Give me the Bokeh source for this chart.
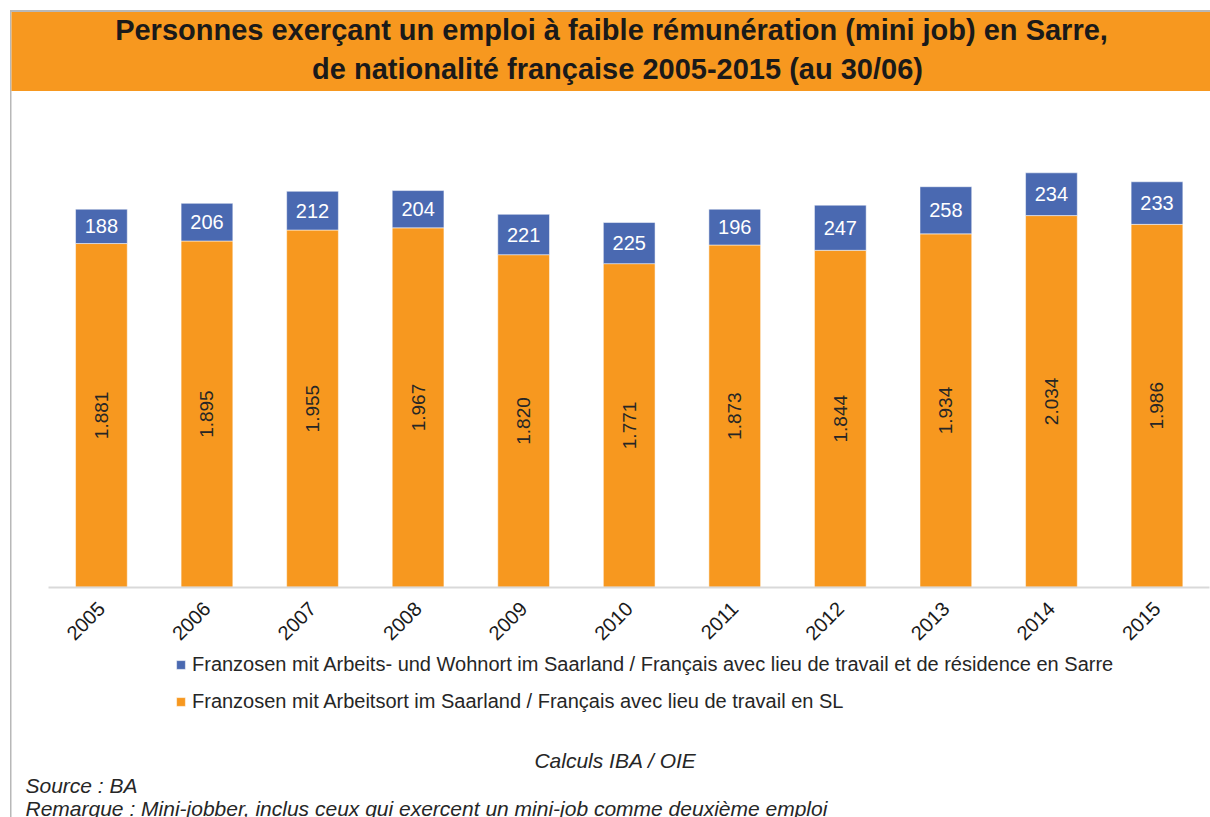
import math
from bokeh.plotting import figure
from bokeh.models import (ColumnDataSource, Range1d, Legend, LegendItem, Label,
                          LinearAxis, FixedTicker, BoxAnnotation)
from bokeh.core.properties import value
from bokeh.embed import file_html
from bokeh.resources import INLINE

# ---------------- data ----------------
title_lines = [
    "Personnes exerçant un emploi à faible rémunération (mini job) en Sarre,",
    "de nationalité française 2005-2015 (au 30/06)",
]
years = ["2005", "2006", "2007", "2008", "2009", "2010", "2011", "2012", "2013", "2014", "2015"]
arbeitsort = [1881, 1895, 1955, 1967, 1820, 1771, 1873, 1844, 1934, 2034, 1986]
wohnort = [188, 206, 212, 204, 221, 225, 196, 247, 258, 234, 233]
series_names = [
    "Franzosen mit Arbeitsort im Saarland / Français avec lieu de travail en SL",
    "Franzosen mit Arbeits- und Wohnort im Saarland / Français avec lieu de travail et de résidence en Sarre",
]
footer_center = "Calculs IBA / OIE"
footer_lines = [
    "Source : BA",
    "Remarque : Mini-jobber, inclus ceux qui exercent un mini-job comme deuxième emploi",
]

ORANGE = "#F7981F"
BLUE = "#4A69B1"
GRAY = "#B8B8B8"
FONT = "Liberation Sans"
TXT = "#262626"

def fmt(v):
    return f"{v:,}".replace(",", ".")

W, H = 1210, 817
idx = list(range(len(years)))

src = ColumnDataSource(dict(
    x=idx,
    sl=arbeitsort,
    res=wohnort,
    sl_mid=[a / 2 for a in arbeitsort],
    res_mid=[a + b / 2 for a, b in zip(arbeitsort, wohnort)],
    sl_txt=[fmt(a) for a in arbeitsort],
    res_txt=[fmt(b) for b in wohnort],
))

p = figure(width=W, height=H, x_range=Range1d(-0.956, 10.507), y_range=Range1d(-1260.5, 3211.3),
           x_axis_type=None, y_axis_type=None, output_backend="svg", toolbar_location=None,
           min_border_left=0, min_border_right=0, min_border_top=0, min_border_bottom=0)
p.outline_line_color = None
p.grid.visible = False
p.background_fill_color = "white"
p.border_fill_color = "white"

# frame decoration: gray border lines and orange title band
p.add_layout(BoxAnnotation(left=9.5, right=11, bottom=0, top=807.5,
                           left_units="screen", right_units="screen",
                           bottom_units="screen", top_units="screen",
                           fill_color=GRAY, fill_alpha=1, line_color=None, level="underlay"))
p.add_layout(BoxAnnotation(left=9.5, right=W, bottom=805.5, top=807.5,
                           left_units="screen", right_units="screen",
                           bottom_units="screen", top_units="screen",
                           fill_color=GRAY, fill_alpha=1, line_color=None, level="underlay"))
p.add_layout(BoxAnnotation(left=11, right=W, bottom=726.5, top=805.5,
                           left_units="screen", right_units="screen",
                           bottom_units="screen", top_units="screen",
                           fill_color=ORANGE, fill_alpha=1, line_color=None, level="underlay"))

p.add_layout(Label(x=611, y=788, x_units="screen", y_units="screen", text=title_lines[0],
                   text_align="center", text_baseline="alphabetic", text_font=FONT,
                   text_font_style="bold", text_font_size="29px", text_color="#1A1A1A"))
p.add_layout(Label(x=617, y=749, x_units="screen", y_units="screen", text=title_lines[1],
                   text_align="center", text_baseline="alphabetic", text_font=FONT,
                   text_font_style="bold", text_font_size="29px", text_color="#1A1A1A"))

# bars
rs = p.vbar_stack(["sl", "res"], x="x", width=0.49, color=[ORANGE, BLUE],
                  line_color="white", line_alpha=0.5, line_width=1, source=src)

p.text(x="x", y="sl_mid", text="sl_txt", angle=math.pi / 2, source=src,
       text_align="center", text_baseline="middle", text_font=value(FONT),
       text_font_size="19px", text_color=TXT)
p.text(x="x", y="res_mid", text="res_txt", source=src,
       text_align="center", text_baseline="middle", text_font=value(FONT),
       text_font_size="20px", text_color="white")

# category axis drawn at y = 0
ax = LinearAxis(ticker=FixedTicker(ticks=idx),
                major_label_overrides={i: y for i, y in zip(idx, years)},
                fixed_location=0, bounds=(-0.5, len(years) - 0.5))
ax.axis_line_color = "#D9D9D9"
ax.axis_line_width = 2
ax.major_tick_line_color = None
ax.minor_tick_line_color = None
ax.major_label_orientation = math.pi / 4
ax.major_label_text_font = FONT
ax.major_label_text_font_size = "20px"
ax.major_label_text_color = "#1A1A1A"
ax.major_label_standoff = 12
p.add_layout(ax, "below")

legend = Legend(items=[LegendItem(label=series_names[1], renderers=[rs[1]]),
                       LegendItem(label=series_names[0], renderers=[rs[0]])],
                location=(175, 104), orientation="vertical",
                label_text_font=FONT, label_text_font_size="20px", label_text_color=TXT,
                glyph_width=11, glyph_height=11, label_height=20, spacing=14,
                label_standoff=6, padding=0, margin=0,
                border_line_color=None, background_fill_alpha=0)
p.add_layout(legend, "center")

p.add_layout(Label(x=615, y=57, x_units="screen", y_units="screen", text=footer_center,
                   text_align="center", text_baseline="middle", text_font=FONT,
                   text_font_style="italic", text_font_size="21px", text_color=TXT))
for i, t in enumerate(footer_lines):
    p.add_layout(Label(x=25, y=32 - 23 * i, x_units="screen", y_units="screen", text=t,
                       text_align="left", text_baseline="middle", text_font=FONT,
                       text_font_style="italic", text_font_size="21px", text_color=TXT))

open("out.html", "w").write(file_html(p, INLINE))
